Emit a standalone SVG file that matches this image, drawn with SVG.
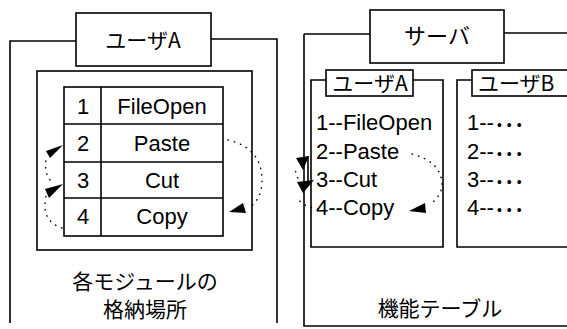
<svg xmlns="http://www.w3.org/2000/svg" width="567" height="329" viewBox="0 0 567 329">
<style>
.ln{fill:none;stroke:#000;stroke-width:1.6}
.bx{fill:#fff;stroke:#000;stroke-width:1.6}
.dot{fill:none;stroke:#000;stroke-width:1.4;stroke-dasharray:0.5 6;stroke-linecap:round}
.jp{font-family:"Noto Sans CJK JP","Liberation Sans",sans-serif;font-size:21px;fill:#000}
.en{font-family:"Liberation Sans",Arial,sans-serif;font-size:22px;fill:#000}
.md{font-size:14px;letter-spacing:5px}
.ah{fill:#000}
</style>
<rect width="567" height="329" fill="#fff"/>

<g id="storage">
  <path class="ln" d="M10,323 V41 H76 M211,39 H277 V323"/>
  <rect class="bx" x="76" y="13" width="135" height="53"/>
  <text class="jp" x="143" y="48" text-anchor="middle">ユーザA</text>
  <rect class="ln" x="37" y="71" width="215" height="179"/>
  <text class="jp" x="145" y="289" text-anchor="middle">各モジュールの</text>
  <text class="jp" x="145" y="317" text-anchor="middle">格納場所</text>
</g>

<g id="module-table">
  <rect class="ln" x="64" y="87" width="159" height="149"/>
  <path class="ln" d="M101,87 V236 M64,124 H223 M64,162 H223 M64,198 H223"/>
  <text class="en" x="83" y="114" text-anchor="middle">1</text>
  <text class="en" x="162" y="114" text-anchor="middle">FileOpen</text>
  <text class="en" x="83" y="151" text-anchor="middle">2</text>
  <text class="en" x="162" y="151" text-anchor="middle">Paste</text>
  <text class="en" x="83" y="188" text-anchor="middle">3</text>
  <text class="en" x="162" y="188" text-anchor="middle">Cut</text>
  <text class="en" x="83" y="224" text-anchor="middle">4</text>
  <text class="en" x="162" y="224" text-anchor="middle">Copy</text>
</g>

<g id="server">
  <path class="ln" d="M304,34 V326 H567 M304,34 H370 M504,33 H567"/>
  <rect class="bx" x="370" y="10" width="134" height="53"/>
  <text class="jp" x="437" y="44" text-anchor="middle" style="font-size:22px">サーバ</text>
  <text class="jp" x="440" y="316" text-anchor="middle">機能テーブル</text>
</g>

<g id="userA-table">
  <path class="ln" d="M326,80 H311 V247 H443 V80 H413"/>
  <rect class="bx" x="326" y="70" width="87" height="26"/>
  <text class="jp" x="370" y="91" text-anchor="middle">ユーザA</text>
  <text class="en" x="316" y="130">1--FileOpen</text>
  <text class="en" x="316" y="159">2--Paste</text>
  <text class="en" x="316" y="187">3--Cut</text>
  <text class="en" x="316" y="215">4--Copy</text>
</g>

<g id="userB-table">
  <path class="ln" d="M472,80 H457 V247 H567"/>
  <rect class="bx" x="472" y="70" width="100" height="26"/>
  <text class="jp" x="478" y="91">ユーザB</text>
  <text class="en" x="467" y="130">1--<tspan class="md" dx="3">•••</tspan></text>
  <text class="en" x="467" y="159">2--<tspan class="md" dx="3">•••</tspan></text>
  <text class="en" x="467" y="187">3--<tspan class="md" dx="3">•••</tspan></text>
  <text class="en" x="467" y="215">4--<tspan class="md" dx="3">•••</tspan></text>
</g>

<g id="connectors">
  <!-- left panel -->
  <path class="dot" d="M228,140 Q262,148 262,180 Q262,200 248,208"/>
  <polygon class="ah" points="229,212 243,203 246,213"/>
  <path class="dot" d="M62,228 Q44,222 45,204 L46,196"/>
  <path class="dot" d="M50,180 Q44,172 46,160"/>
  <polygon class="ah" points="63,145 46,151 50,158"/>
  <polygon class="ah" points="63,184 45,189 49,198"/>
  <!-- right panel -->
  <path class="dot" d="M412,154 Q442,162 442,185 Q441,197 430,204"/>
  <polygon class="ah" points="409,211 425,203 426,213"/>
  <path class="ln" d="M308,156 V182"/>
  <polygon class="ah" points="296,158 309,156 303,170"/>
  <polygon class="ah" points="297,182 314,180 303,193"/>
  <path class="dot" d="M318,209 Q300,206 297,196"/>
  <path class="dot" d="M298,178 Q294,172 297,166"/>
</g>
</svg>
